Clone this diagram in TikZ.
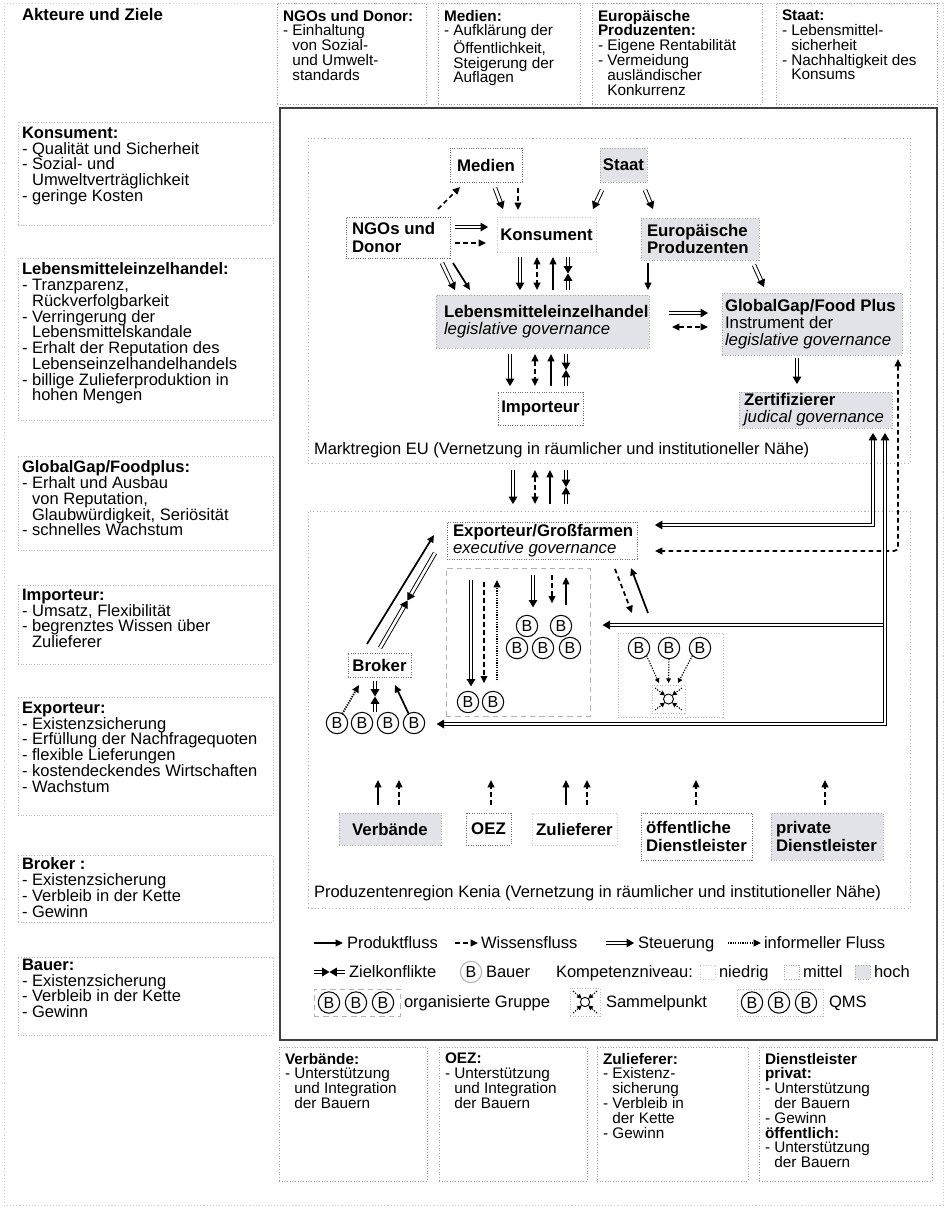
\documentclass[tikz,border=0pt]{standalone}
\usepackage{fontspec}
\setmainfont{Liberation Sans}
\usetikzlibrary{arrows.meta,calc,fit}

\definecolor{hochgrau}{HTML}{E2E3E9}
\newcommand{\einzug}{\hspace*{0.611em}}
\newcommand{\schrift}{\fontsize{12.4}{11.8}\selectfont}
\newcommand{\schriftw}{\fontsize{11.5}{11.1}\selectfont}
\newcommand{\schriftn}{\fontsize{12.6}{12.8}\selectfont}
% two steering arrows meeting in the middle: conflicting goals
\newcommand{\konflikt}[2]{%
  \draw[steu] (#1) -- ($(#1)!0.5!(#2)$);
  \draw[steu] (#2) -- ($(#1)!0.5!(#2)$);}

\tikzset{
  >={Triangle[length=5.5pt,width=5pt]},
  every node/.style={inner sep=0pt, outer sep=0pt},
  txt/.style={font=\schrift, align=left},
  txtw/.style={font=\schriftw, align=left},
  ntxt/.style={font=\schriftn, align=left},
  btxt/.style={font=\schriftn\bfseries, align=left},
  zielbox/.style={draw=gray!55, dash pattern=on 0.8pt off 1.2pt, line width=0.6pt},
  akteur/.style={draw=gray!75, dash pattern=on 0.8pt off 1.2pt, line width=0.7pt},
  region/.style={draw=gray!60, dash pattern=on 0.8pt off 1.8pt, line width=0.6pt},
  niedrig/.style={draw=gray!45, dash pattern=on 0.8pt off 1.2pt, line width=0.6pt},
  mittel/.style={draw=gray!85!black, dash pattern=on 0.8pt off 1pt, line width=0.7pt},
  hoch/.style={draw=gray!70, dash pattern=on 0.8pt off 1.2pt, line width=0.6pt, fill=hochgrau},
  gruppe/.style={draw=gray!60, dash pattern=on 4pt off 3pt, line width=0.6pt},
  qms/.style={draw=gray!55, dash pattern=on 0.8pt off 1.2pt, line width=0.6pt},
  bauer/.style={circle, draw, line width=0.8pt, minimum size=16pt, font=\fontsize{12}{12}\selectfont},
  bauerhell/.style={bauer, draw=gray!60},
  prod/.style={line width=1.3pt, ->},
  wiss/.style={line width=1.3pt, dash pattern=on 3.5pt off 2.5pt, ->},
  wiss2/.style={line width=1.3pt, dash pattern=on 3.5pt off 2.5pt, <->},
  steu/.style={double, double distance=2pt, line width=0.7pt, -{Triangle[length=5.5pt,width=6.5pt]}},
  steu2/.style={double, double distance=2pt, line width=0.7pt, {Triangle[length=5.5pt,width=6.5pt]}-{Triangle[length=5.5pt,width=6.5pt]}},
  infm/.style={line width=1.4pt, dash pattern=on 0.9pt off 0.9pt, ->},
  klein/.style={line width=0.8pt, dash pattern=on 1pt off 1pt, -{Triangle[length=3.5pt,width=3.5pt]}},
  leg/.style={font=\schrift, anchor=base west},
}

\begin{document}
\begin{tikzpicture}[x=0.75pt,y=-0.75pt]
\useasboundingbox (0,0) rectangle (946,1208);
\fill[white] (0,0) rectangle (946,1208);
\draw[gray!40, dash pattern=on 0.8pt off 1.5pt, line width=0.5pt] (4,3) rectangle (943,1205);

% ---------- header row: actors and goals ----------
\node[btxt, anchor=north west] (titel) at (22,8) {Akteure und Ziele};

\node[akteur, fit={(277,3) (426,104)}] (z-ngo) {};
\node[txtw, anchor=north west] (z-ngo-t) at (283,10)
  {\textbf{NGOs und Donor:}\\- Einhaltung\\\einzug von Sozial-\\\einzug und Umwelt-\\\einzug standards};
\node[akteur, fit={(438,3) (580,104)}] (z-med) {};
\node[txtw, anchor=north west] (z-med-t) at (444,10)
  {\textbf{Medien:}\\- Aufklärung der\\\einzug Öffentlichkeit,\\\einzug Steigerung der\\\einzug Auflagen};
\node[akteur, fit={(592,3) (762,104)}] (z-eur) {};
\node[txtw, anchor=north west] (z-eur-t) at (598,10)
  {\textbf{Europäische}\\\textbf{Produzenten:}\\- Eigene Rentabilität\\- Vermeidung\\\einzug ausländischer\\\einzug Konkurrenz};
\node[akteur, fit={(776,3) (937,104)}] (z-sta) {};
\node[txtw, anchor=north west] (z-sta-t) at (782,10)
  {\textbf{Staat:}\\- Lebensmittel-\\\einzug sicherheit\\- Nachhaltigkeit des\\\einzug Konsums};

% ---------- left column ----------
\node[zielbox, fit={(18,122) (273,225)}] (z-kon) {};
\node[txt, anchor=north west] (z-kon-t) at (22,127)
  {\textbf{Konsument:}\\- Qualität und Sicherheit\\- Sozial- und\\\einzug Umweltverträglichkeit\\- geringe Kosten};
\node[zielbox, fit={(18,258) (273,420)}] (z-leh) {};
\node[txt, anchor=north west] (z-leh-t) at (22,263)
  {\textbf{Lebensmitteleinzelhandel:}\\- Tranzparenz,\\\einzug Rückverfolgbarkeit\\- Verringerung der\\\einzug Lebensmittelskandale\\- Erhalt der Reputation des\\\einzug Lebenseinzelhandelhandels\\- billige Zulieferproduktion in\\\einzug hohen Mengen};
\node[zielbox, fit={(18,456) (273,550)}] (z-gg) {};
\node[txt, anchor=north west] (z-gg-t) at (22,461)
  {\textbf{GlobalGap/Foodplus:}\\- Erhalt und Ausbau\\\einzug von Reputation,\\\einzug Glaubwürdigkeit, Seriösität\\- schnelles Wachstum};
\node[zielbox, fit={(18,585) (273,664)}] (z-imp) {};
\node[txt, anchor=north west] (z-imp-t) at (22,589)
  {\textbf{Importeur:}\\- Umsatz, Flexibilität\\- begrenztes Wissen über\\\einzug Zulieferer};
\node[zielbox, fit={(18,697) (273,815)}] (z-exp) {};
\node[txt, anchor=north west] (z-exp-t) at (22,702)
  {\textbf{Exporteur:}\\- Existenzsicherung\\- Erfüllung der Nachfragequoten\\- flexible Lieferungen\\- kostendeckendes Wirtschaften\\- Wachstum};
\node[zielbox, fit={(18,855) (273,922)}] (z-bro) {};
\node[txt, anchor=north west] (z-bro-t) at (22,858)
  {\textbf{Broker :}\\- Existenzsicherung\\- Verbleib in der Kette\\- Gewinn};
\node[zielbox, fit={(18,957) (273,1035)}] (z-bau) {};
\node[txt, anchor=north west] (z-bau-t) at (22,959)
  {\textbf{Bauer:}\\- Existenzsicherung\\- Verbleib in der Kette\\- Gewinn};

% ---------- bottom row ----------
\node[akteur, fit={(279,1047) (427,1181)}] (z-ver) {};
\node[txtw, anchor=north west] (z-ver-t) at (285,1053)
  {\textbf{Verbände:}\\- Unterstützung\\\einzug und Integration\\\einzug der Bauern};
\node[akteur, fit={(439,1047) (587,1181)}] (z-oez) {};
\node[txtw, anchor=north west] (z-oez-t) at (445,1053)
  {\textbf{OEZ:}\\- Unterstützung\\\einzug und Integration\\\einzug der Bauern};
\node[akteur, fit={(597,1047) (748,1181)}] (z-zul) {};
\node[txtw, anchor=north west] (z-zul-t) at (603,1053)
  {\textbf{Zulieferer:}\\- Existenz-\\\einzug sicherung\\- Verbleib in\\\einzug der Kette\\- Gewinn};
\node[akteur, fit={(759,1047) (932,1181)}] (z-dl) {};
\node[txtw, anchor=north west] (z-dl-t) at (765,1053)
  {\textbf{Dienstleister}\\\textbf{privat:}\\- Unterstützung\\\einzug der Bauern\\- Gewinn\\\textbf{öffentlich:}\\- Unterstützung\\\einzug der Bauern};

% ---------- main panel ----------
\node[draw=black!75, line width=0.9pt, fit={(280,108) (937,1040)}] (panel) {};

% market region EU
\node[region, fit={(308,138) (910,463)}] (eu) {};
\node[txt, anchor=west] (eu-t) at (314,450) {Marktregion EU (Vernetzung in räumlicher und institutioneller Nähe)};

\node[mittel, fit={(450,148) (522,182)}] (medien) {};
\node[btxt] (medien-t) at (medien) {Medien};
\node[hoch, fit={(600,148) (647,182)}] (staat) {};
\node[btxt] (staat-t) at (staat) {Staat};
\node[mittel, fit={(346,217) (450,258)}] (ngo) {};
\node[btxt, anchor=west] (ngo-t) at (352,237.5) {NGOs und\\Donor};
\node[niedrig, fit={(497,217) (596,252)}] (kons) {};
\node[btxt] (kons-t) at (kons) {Konsument};
\node[hoch, fit={(641,218) (759,260)}] (europ) {};
\node[btxt, anchor=west] (europ-t) at (647,239) {Europäische\\Produzenten};
\node[hoch, fit={(436,295) (649,348)}] (leh) {};
\node[ntxt, anchor=west] (leh-t) at (444,321.5) {\textbf{Lebensmitteleinzelhandel}\\\textit{legislative governance}};
\node[hoch, fit={(722,293) (902,355)}] (gg) {};
\node[ntxt, anchor=west] (gg-t) at (725,324) {\textbf{GlobalGap/Food Plus}\\Instrument der\\\textit{legislative governance}};
\node[mittel, fit={(498,392) (583,425)}] (imp) {};
\node[btxt] (imp-t) at (imp) {Importeur};
\node[hoch, fit={(739,392) (892,428)}] (zert) {};
\node[ntxt, anchor=west] (zert-t) at (744,410) {\textbf{Zertifizierer}\\\textit{judical governance}};

\draw[wiss] ($(ngo.north east)+(-12,-8)$) -- ($(medien.south west)+(10,5)$);
\draw[steu] ($(medien.south)+(9,6)$) -- ($(kons.north west)+(6,-8)$);
\draw[wiss] ($(medien.south east)+(-4,6)$) -- ($(kons.north west)+(21,-7)$);
\draw[steu] ($(staat.south west)+(2,8)$) -- ($(kons.north east)+(-3,-8)$);
\draw[steu] ($(staat.south east)+(-2,8)$) -- ($(europ.north west)+(12,-9)$);
\draw[steu] ($(ngo.north east)+(5,10)$) -- ($(kons.north west)+(-9,10)$);
\draw[wiss] ($(ngo.north east)+(5,26)$) -- ($(kons.north west)+(-11,26)$);
\draw[steu] ($(ngo.south east)+(-8,5)$) -- ($(leh.north west)+(19,-5)$);
\draw[prod] ($(ngo.south east)+(3,5)$) -- ($(leh.north west)+(34,-5)$);

\draw[steu] ($(kons.south west)+(23,5)$) -- ($(leh.north west)+(84,-5)$);
\draw[wiss2] ($(kons.south west)+(40,5)$) -- ($(leh.north west)+(101,-5)$);
\draw[prod] ($(leh.north west)+(117,-5)$) -- ($(kons.south west)+(56,5)$);
\coordinate (k1) at ($(kons.south west)+(71,5)$);
\coordinate (k2) at ($(leh.north west)+(132,-5)$);
\konflikt{k1}{k2}

\draw[prod] ($(europ.south west)+(7,3)$) -- ($(leh.north east)+(-1,-5)$);
\draw[steu] ($(europ.south east)+(-5,5)$) -- ($(gg.north west)+(42,-6)$);
\draw[steu] ($(leh.north east)+(20,18)$) -- ($(gg.north west)+(-14,20)$);
\draw[wiss2] ($(leh.north east)+(23,32)$) -- ($(gg.north west)+(-14,34)$);
\draw[steu] ($(gg.south west)+(75,3)$) -- ($(zert.north west)+(58,-8)$);

\draw[steu] ($(leh.south west)+(74,6)$) -- ($(imp.north west)+(12,-6)$);
\draw[wiss2] ($(leh.south west)+(99,6)$) -- ($(imp.north west)+(37,-6)$);
\draw[prod] ($(imp.north west)+(53,-6)$) -- ($(leh.south west)+(115,6)$);
\coordinate (i1) at ($(leh.south west)+(130,6)$);
\coordinate (i2) at ($(imp.north west)+(68,-6)$);
\konflikt{i1}{i2}

% producer region Kenya
\node[region, fit={(308,511) (910,908)}] (ken) {};
\node[txt, anchor=west] (ken-t) at (314,893) {Produzentenregion Kenia (Vernetzung in räumlicher und institutioneller Nähe)};

\draw[steu] ($(eu.south west)+(205,7)$) -- ($(ken.north west)+(205,-7)$);
\draw[wiss2] ($(eu.south west)+(227,7)$) -- ($(ken.north west)+(227,-7)$);
\draw[prod] ($(ken.north west)+(242,-7)$) -- ($(eu.south west)+(242,7)$);
\coordinate (e1) at ($(eu.south west)+(258,7)$);
\coordinate (e2) at ($(ken.north west)+(258,-7)$);
\konflikt{e1}{e2}

\node[mittel, fit={(447,522) (637,559)}] (exp) {};
\node[ntxt, anchor=west] (exp-t) at (453,540.5) {\textbf{Exporteur/Großfarmen}\\\textit{executive governance}};
\node[gruppe, fit={(446,568) (590,716)}] (org) {};
\node[mittel, fit={(348,653) (411,677)}] (broker) {};
\node[btxt] (broker-t) at (broker) {Broker};
\node[qms, fit={(618,633) (723,717)}] (qmsbox) {};
\node[qms, fit={(652,685) (685,713)}] (sammel) {};
\node[circle, draw, line width=0.7pt, minimum size=7.5pt] (sp) at (668.5,699) {};

\node[bauer] (bb1) at (337,723) {B};
\node[bauer] (bb2) at (362,723) {B};
\node[bauer] (bb3) at (388,723) {B};
\node[bauer] (bb4) at (414,723) {B};
\node[bauer] (bp1) at (468,702) {B};
\node[bauer] (bp2) at (493,702) {B};
\node[bauer] (bc1) at (527,626) {B};
\node[bauer] (bc2) at (561,626) {B};
\node[bauer] (bc3) at (517,648) {B};
\node[bauer] (bc4) at (543,648) {B};
\node[bauer] (bc5) at (570,648) {B};
\node[bauer] (bq1) at (639,648) {B};
\node[bauer] (bq2) at (669,648) {B};
\node[bauer] (bq3) at (700,648) {B};

\draw[prod] ($(broker.north west)+(19,-9)$) -- ($(exp.north west)+(-13,13)$);
\coordinate (x1) at ($(exp.south west)+(-12,-6)$);
\coordinate (x2) at ($(broker.north west)+(32,-5)$);
\konflikt{x1}{x2}
\draw[infm] (bb1.60) -- ($(broker.south west)+(11,8)$);
\coordinate (r1) at ($(broker.south west)+(27,4)$);
\coordinate (r2) at ($(broker.south west)+(27,35)$);
\konflikt{r2}{r1}
\draw[prod] (bb4.120) -- ($(broker.south east)+(-16,8)$);

\draw[steu] ($(exp.south west)+(24,21)$) -- ($(bp1.north)+(3,-5)$);
\draw[wiss] ($(exp.south west)+(37,23)$) -- ($(bp2.north)+(-9,-8)$);
\draw[infm] ($(bp2.north)+(4,-11)$) -- ($(exp.south west)+(50,21)$);
\draw[steu] ($(exp.south west)+(86,16)$) -- ($(bc1.north)+(6,-8)$);
\draw[wiss] ($(exp.south west)+(105,16)$) -- ($(bc2.north)+(-9,-12)$);
\draw[prod] ($(bc2.north)+(5,-10)$) -- ($(exp.south west)+(119,18)$);
\draw[wiss] ($(exp.south east)+(-22,10)$) -- ($(qmsbox.north west)+(14,-20)$);
\draw[prod] ($(qmsbox.north west)+(30,-20)$) -- ($(exp.south east)+(-6,9)$);

\draw[klein] (bq1.south east) -- ($(sammel.north west)+(7,-2)$);
\draw[klein] (bq2.south) -- ($(sammel.north)+(0,-2)$);
\draw[klein] (bq3.south west) -- ($(sammel.north east)+(-7,-2)$);
\draw[klein] ($(sammel.north west)+(3,3)$) -- (sp.north west);
\draw[klein] ($(sammel.north east)+(-3,3)$) -- (sp.north east);
\draw[klein] ($(sammel.south west)+(3,-3)$) -- (sp.south west);
\draw[klein] ($(sammel.south east)+(-3,-3)$) -- (sp.south east);

% steering and knowledge lines from the standard setters down to the farms
\draw[wiss2, rounded corners=3pt] ($(gg.south east)+(-4,4)$) |- ($(exp.south east)+(18,-8)$);
\draw[steu2] ($(zert.south west)+(134,5)$) |- ($(exp.north east)+(18,3)$);
\draw[steu] ($(zert.south west)+(146,197)$) -- ($(bc2.east)+(31,-1)$);
\draw[steu2] ($(zert.south west)+(146,5)$) |- ($(bb4.east)+(12,1)$);

% supporting actors
\node[hoch, fit={(339,813) (441,845)}] (verb) {};
\node[btxt] (verb-t) at (verb) {Verbände};
\node[mittel, fit={(466,813) (511,845)}] (oez) {};
\node[btxt] (oez-t) at (oez) {OEZ};
\node[niedrig, fit={(532,813) (617,845)}] (zul) {};
\node[btxt] (zul-t) at (zul) {Zulieferer};
\node[mittel, fit={(641,813) (752,860)}] (oeff) {};
\node[btxt, anchor=west] (oeff-t) at (646,836.5) {öffentliche\\Dienstleister};
\node[hoch, fit={(771,813) (883,860)}] (priv) {};
\node[btxt, anchor=west] (priv-t) at (776,836.5) {private\\Dienstleister};

\draw[prod] ($(verb.north west)+(39,-8)$) -- ($(verb.north west)+(39,-33)$);
\draw[wiss] ($(verb.north west)+(60,-8)$) -- ($(verb.north west)+(60,-33)$);
\draw[wiss] ($(oez.north west)+(25,-8)$) -- ($(oez.north west)+(25,-33)$);
\draw[prod] ($(zul.north west)+(34,-8)$) -- ($(zul.north west)+(34,-33)$);
\draw[wiss] ($(zul.north west)+(55,-8)$) -- ($(zul.north west)+(55,-33)$);
\draw[wiss] ($(oeff.north west)+(55,-8)$) -- ($(oeff.north west)+(55,-33)$);
\draw[wiss] ($(priv.north west)+(54,-8)$) -- ($(priv.north west)+(54,-33)$);

% ---------- legend ----------
\coordinate (l1a) at (314,943); \coordinate (l1b) at (343,943);
\draw[prod] (l1a) -- (l1b);
\node[leg] (l1t) at (347,948) {Produktfluss};
\coordinate (l2a) at (455,943); \coordinate (l2b) at (478,943);
\draw[wiss] (l2a) -- (l2b);
\node[leg] (l2t) at (481,948) {Wissensfluss};
\coordinate (l3a) at (606,943); \coordinate (l3b) at (634,943);
\draw[steu] (l3a) -- (l3b);
\node[leg] (l3t) at (638,948) {Steuerung};
\coordinate (l4a) at (728,943); \coordinate (l4b) at (761,943);
\draw[infm] (l4a) -- (l4b);
\node[leg] (l4t) at (764,948) {informeller Fluss};

\coordinate (l5a) at (314,972); \coordinate (l5b) at (345,972);
\konflikt{l5a}{l5b}
\node[leg] (l5t) at (349,977) {Zielkonflikte};
\node[bauerhell] (lb) at (471,972) {B};
\node[leg] (lbt) at (486,977) {Bauer};
\node[leg] (lkt) at (556,977) {Kompetenzniveau:};
\node[niedrig, fit={(700,965) (715,979)}] (ln) {};
\node[leg] (lnt) at (719,977) {niedrig};
\node[mittel, draw=gray!70, fit={(784,965) (799,979)}] (lm) {};
\node[leg] (lmt) at (803,977) {mittel};
\node[hoch, fit={(855,965) (870,979)}] (lh) {};
\node[leg] (lht) at (874,977) {hoch};

\node[gruppe, fit={(314,989) (400,1016)}] (lg) {};
\node[bauer] (lg1) at (329,1002.5) {B};
\node[bauer] (lg2) at (356,1002.5) {B};
\node[bauer] (lg3) at (383,1002.5) {B};
\node[leg] (lgt) at (404,1007) {organisierte Gruppe};
\node[qms, fit={(570,988) (600,1016)}] (ls) {};
\node[circle, draw, line width=0.7pt, minimum size=7pt] (lsp) at (585,1002) {};
\draw[klein] ($(ls.north west)+(3,3)$) -- (lsp.north west);
\draw[klein] ($(ls.north east)+(-3,3)$) -- (lsp.north east);
\draw[klein] ($(ls.south west)+(3,-3)$) -- (lsp.south west);
\draw[klein] ($(ls.south east)+(-3,-3)$) -- (lsp.south east);
\node[leg] (lst) at (606,1007) {Sammelpunkt};
\node[qms, fit={(737,989) (823,1016)}] (lq) {};
\node[bauer] (lq1) at (752,1002.5) {B};
\node[bauer] (lq2) at (779,1002.5) {B};
\node[bauer] (lq3) at (806,1002.5) {B};
\node[leg] (lqt) at (829,1007) {QMS};
\end{tikzpicture}
\end{document}
